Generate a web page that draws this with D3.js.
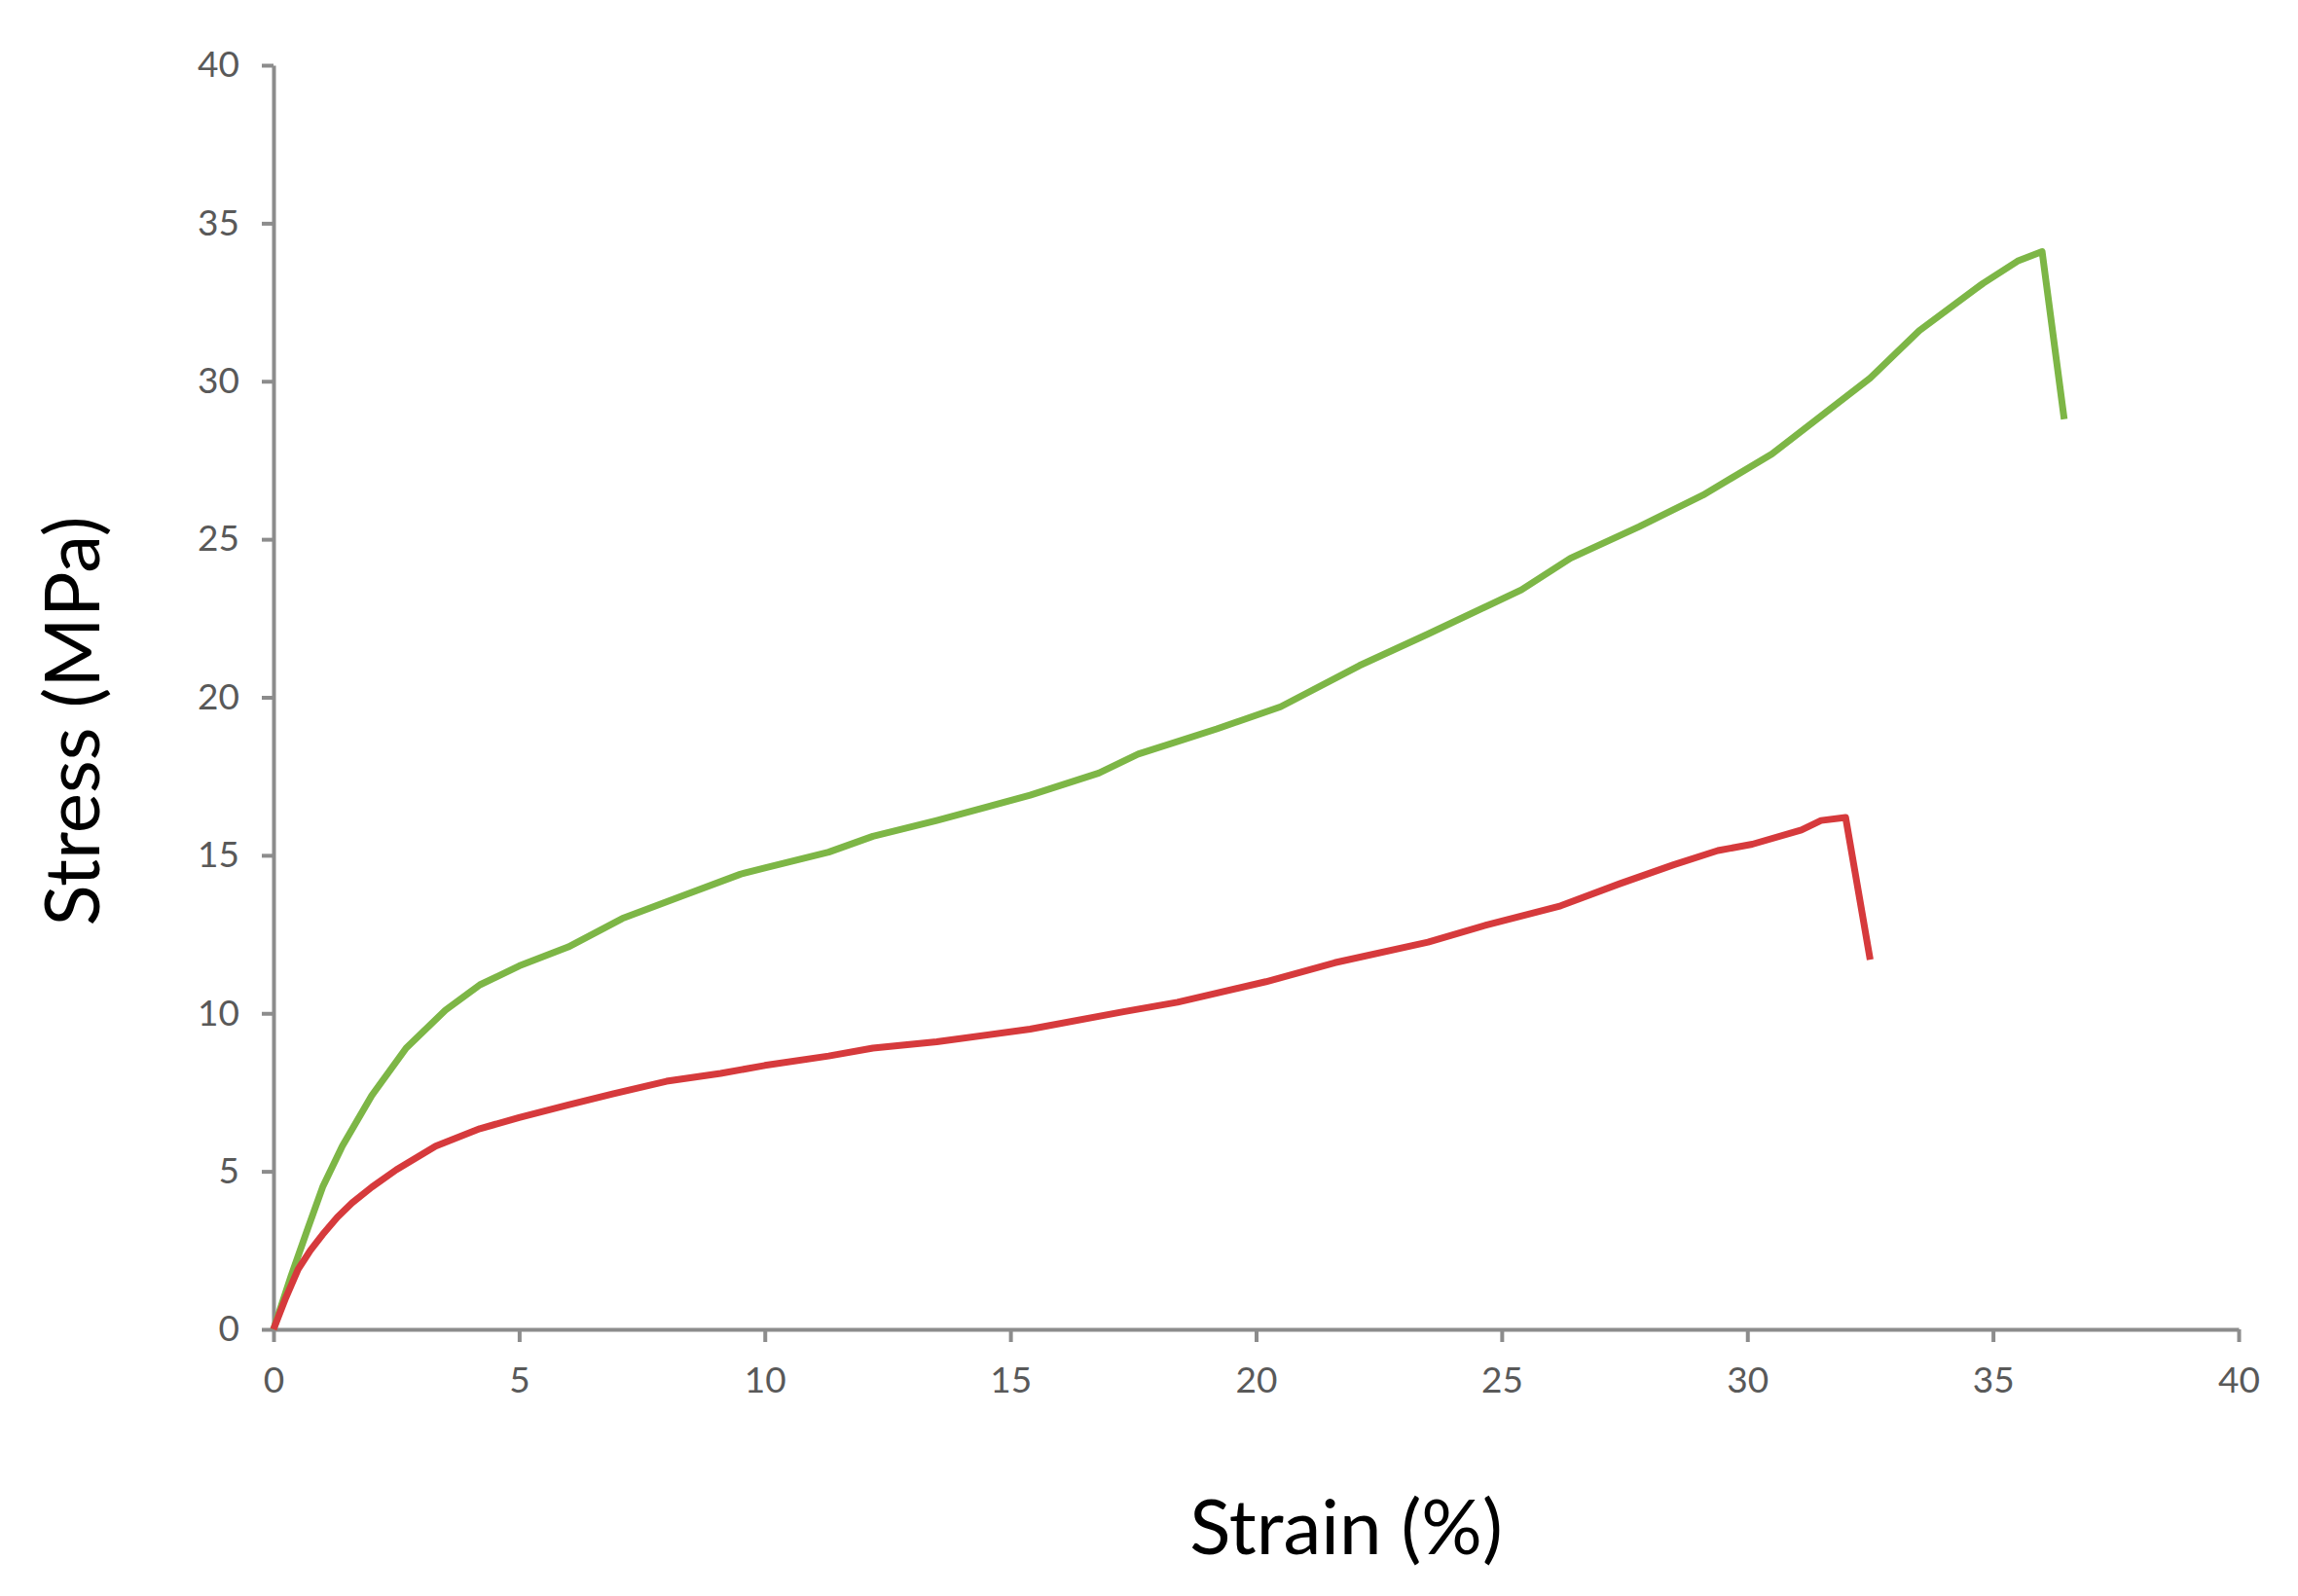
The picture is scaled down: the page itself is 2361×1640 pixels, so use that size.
<!DOCTYPE html>
<html lang="en">
<head>
  <meta charset="UTF-8">
  <title>Stress - Strain</title>
  <script src="https://d3js.org/d3.v7.min.js"></script>
  <style>
    body {
      margin: 0;
      padding: 0;
      background: #fff;
    }
    .tick text {
      font: 37px Lato, sans-serif;
      fill: #595959;
    }
    .axis path, .axis line {
      stroke: #8c8c8c;
      stroke-width: 4;
    }
    .axis-title {
      font: 78px Lato, sans-serif;
      fill: #000;
    }
    .curve {
      fill: none;
      stroke-width: 7;
      stroke-linejoin: round;
      stroke-linecap: butt;
    }
  </style>
</head>
<body>
  <script>
    // green curve (upper)
    const strainGreen = [0, 0.35, 0.7, 1.0, 1.4, 2.0, 2.7, 3.5, 4.2, 5.0, 6.0, 7.1, 8.3, 9.5, 10, 11.3, 12.2, 13.5,
      15.4, 16.8, 17.6, 19.2, 20.5, 22.1, 23.5, 25.4, 26.4, 27.8, 29.1, 30.5, 31.5, 32.5, 33.5,
      34.8, 35.5, 36.0, 36.45];
    const stressGreen = [0, 1.65, 3.2, 4.5, 5.8, 7.4, 8.9, 10.1, 10.9, 11.5, 12.1, 13.0, 13.7, 14.4, 14.6, 15.1, 15.6, 16.1,
      16.9, 17.6, 18.2, 19.0, 19.7, 21.0, 22.0, 23.4, 24.4, 25.4, 26.4, 27.7, 28.9, 30.1, 31.6,
      33.1, 33.8, 34.1, 28.8];

    // red curve (lower)
    const strainRed = [0, 0.25, 0.5, 0.75, 1.0, 1.3, 1.6, 2.0, 2.5, 3.3, 4.2, 5.0, 6.0, 6.9, 8.0, 9.1, 10, 11.3, 12.2, 13.5,
      15.4, 17.3, 18.4, 20.2, 21.6, 23.5, 24.7, 26.2, 27.4, 28.5, 29.4, 30.1, 31.1, 31.5, 32.0, 32.5];
    const stressRed = [0, 1.0, 1.9, 2.5, 3.0, 3.55, 4.0, 4.5, 5.05, 5.8, 6.35, 6.7, 7.1, 7.45, 7.85, 8.1, 8.35, 8.65, 8.9, 9.1,
      9.5, 10.05, 10.35, 11.0, 11.6, 12.25, 12.8, 13.4, 14.1, 14.7, 15.15, 15.35, 15.8, 16.1, 16.2, 11.7];

    const xTicks = [0, 5, 10, 15, 20, 25, 30, 35, 40];
    const yTicks = [0, 5, 10, 15, 20, 25, 30, 35, 40];

    const width = 2361, height = 1640;
    const margin = { top: 67, right: 61, bottom: 274, left: 281 };

    const svg = d3.select("body").append("svg")
      .attr("width", width)
      .attr("height", height);

    const x = d3.scaleLinear().domain([0, 40]).range([margin.left, width - margin.right]);
    const y = d3.scaleLinear().domain([0, 40]).range([height - margin.bottom, margin.top]);

    svg.append("g")
      .attr("class", "axis")
      .attr("transform", `translate(0,${height - margin.bottom})`)
      .call(d3.axisBottom(x).tickValues(xTicks).tickSize(13).tickSizeOuter(0).tickPadding(26));

    svg.append("g")
      .attr("class", "axis")
      .attr("transform", `translate(${margin.left},0)`)
      .call(d3.axisLeft(y).tickValues(yTicks).tickSize(12).tickSizeOuter(0).tickPadding(23));

    const line = d3.line()
      .x(d => x(d[0]))
      .y(d => y(d[1]));

    const series = [
      { color: "#7db646", pts: d3.zip(strainGreen, stressGreen) },
      { color: "#d63a3c", pts: d3.zip(strainRed, stressRed) }
    ];

    svg.append("g")
      .selectAll("path")
      .data(series)
      .join("path")
      .attr("class", "curve")
      .attr("stroke", d => d.color)
      .attr("d", d => line(d.pts));

    svg.append("text")
      .attr("class", "axis-title")
      .attr("x", 1383)
      .attr("y", 1597)
      .attr("text-anchor", "middle")
      .text("Strain (%)");

    svg.append("text")
      .attr("class", "axis-title")
      .attr("transform", "translate(102,741) rotate(-90)")
      .attr("text-anchor", "middle")
      .text("Stress (MPa)");
  </script>
</body>
</html>
